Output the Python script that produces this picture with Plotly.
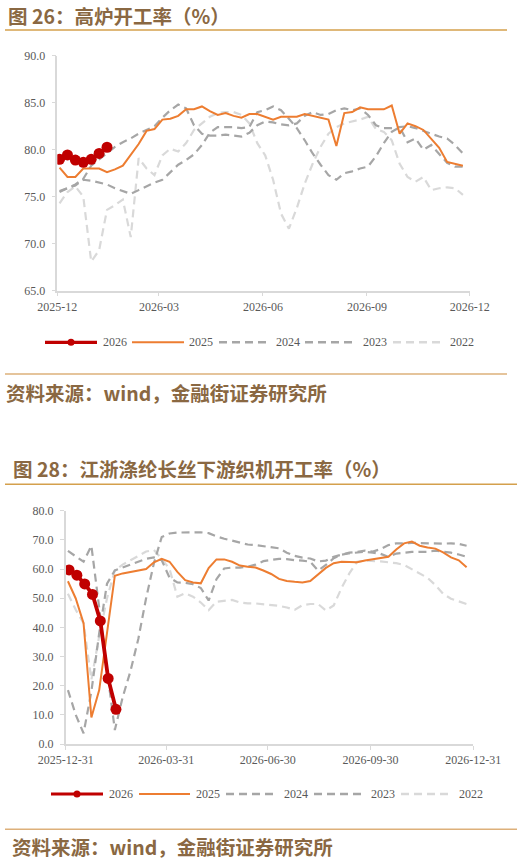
import plotly.graph_objects as go
import pandas as pd

W, H = 525, 861

# ---------------- Chart 1: 高炉开工率 (weekly) ----------------
bf_start = "2025-12-03"
bf_2026 = [78.98, 79.44, 78.9, 78.66, 78.98, 79.6, 80.26]
bf_2025 = [78.1, 77.1, 77.1, 78.0, 78.0, 78.0, 77.6, 77.9, 78.3, 79.4,
           80.6, 82.0, 82.2, 83.2, 83.3, 83.6, 84.3, 84.3, 84.6, 84.1,
           83.7, 83.9, 83.6, 83.4, 83.8, 83.8, 83.5, 83.2, 83.5, 83.5,
           83.5, 83.8, 83.6, 83.4, 83.2, 80.4, 83.9, 84.0, 84.5, 84.3,
           84.3, 84.3, 84.7, 81.7, 82.8, 82.5, 82.1, 81.2, 80.2, 78.7,
           78.5, 78.3]
bf_2024 = [75.5, 75.9, 76.2, 76.8, 76.7, 76.5, 76.3, 75.9, 75.6, 75.3,
           75.7, 76.1, 76.5, 76.8, 77.6, 78.4, 78.9, 79.5, 80.5, 81.8,
           82.4, 82.4, 82.4, 82.3, 82.4, 84.0, 84.2, 84.6, 84.2, 83.3,
           82.3, 81.0, 79.6, 78.4, 77.3, 76.8, 77.5, 77.7, 78.0, 78.2,
           79.3, 80.7, 81.9, 82.4, 80.8, 81.2, 80.0, 80.5, 79.6, 78.6,
           78.2, 78.2]
bf_2023 = [75.6, 75.9, 76.3, 76.9, 78.3, 79.0, 79.7, 80.3, 80.8, 81.2,
           81.7, 82.1, 82.5, 83.4, 84.2, 84.8, 84.4, 82.6, 81.7, 81.5,
           81.5, 81.6, 81.5, 81.4, 81.8, 82.6, 83.0, 82.9, 82.7, 82.6,
           82.8, 83.6, 84.0, 83.7, 83.8, 84.2, 84.4, 84.2, 84.4, 83.7,
           82.6, 82.3, 82.3, 82.4, 82.5, 82.3, 82.0, 81.7, 81.4, 81.2,
           80.5, 79.6]
bf_2022 = [74.3, 75.5, 76.1, 75.0, 68.1, 69.3, 73.6, 74.1, 74.7, 70.7,
           79.1, 78.0, 77.3, 79.4, 80.1, 79.8, 80.7, 82.1, 82.8, 83.5,
           83.9, 84.0, 84.0, 83.7, 82.8, 80.7, 79.4, 76.8, 73.2, 71.6,
           73.8, 76.4, 78.5, 80.3, 81.7, 82.4, 82.8, 83.0, 83.2, 83.5,
           82.2, 81.9, 81.0, 78.5, 77.1, 76.6, 77.1, 75.7, 75.9, 76.0,
           75.9, 75.2]
bf_ticks = ["2025-12-01", "2026-03-01", "2026-06-01", "2026-09-01", "2026-12-01"]
bf_ticktext = ["2025-12", "2026-03", "2026-06", "2026-09", "2026-12"]

# ---------------- Chart 2: 江浙涤纶长丝下游织机开工率 (weekly) ----------------
loom_start = "2026-01-02"
loom_2026_start = "2026-01-03"
loom_2026 = [59.7, 57.9, 54.9, 51.3, 42.2, 22.5, 11.9]
loom_2025 = [55.8, 49.9, 41.4, 9.1, 18.5, 38.0, 57.7, 58.5, 59.0, 59.6,
             60.0, 62.3, 63.5, 62.5, 59.0, 56.2, 55.4, 55.1, 60.3, 63.3,
             63.3, 62.5, 61.2, 60.8, 60.5, 59.5, 58.3, 56.6, 55.9, 55.6,
             55.4, 55.9, 58.3, 60.4, 62.0, 62.5, 62.4, 62.3, 62.9, 63.4,
             63.8, 64.2, 66.7, 68.8, 69.4, 68.0, 67.4, 67.0, 65.7, 64.0,
             63.0, 60.6]
loom_2024 = [66.2, 64.5, 62.5, 68.0, 45.9, 25.4, 4.8, 16.0, 25.0, 36.0,
             50.0, 62.0, 71.0, 72.2, 72.5, 72.6, 72.6, 72.6, 72.3, 71.2,
             70.4, 69.8, 69.0, 68.4, 68.2, 67.8, 67.4, 67.1, 65.6, 64.5,
             63.9, 63.6, 62.6, 62.9, 64.2, 65.0, 65.6, 65.9, 66.3, 66.0,
             66.8, 68.2, 68.8, 68.8, 69.0, 68.9, 68.8, 68.6, 68.7, 68.8,
             68.6, 68.0]
loom_2023 = [18.5, 10.0, 3.7, 18.0, 38.0, 55.0, 59.5, 60.5, 61.5, 62.5,
             63.5, 64.0, 63.0, 57.0, 55.4, 55.3, 54.8, 53.5, 49.2, 56.5,
             60.2, 60.5, 60.5, 60.8, 61.5, 62.7, 63.0, 63.5, 63.4, 63.0,
             62.9, 62.5, 59.5, 61.4, 63.7, 64.9, 65.4, 65.7, 65.9, 65.6,
             65.2, 64.2, 65.3, 65.6, 65.9, 65.9, 65.9, 66.3, 66.0, 65.6,
             65.0, 64.2]
loom_2022 = [51.5, 46.0, 41.4, 22.0, 37.0, 50.0, 59.5, 61.5, 63.0, 64.5,
             66.0, 66.5, 63.5, 60.0, 50.5, 51.7, 50.5, 48.5, 45.9, 48.8,
             49.2, 49.4, 48.5, 48.2, 48.2, 48.0, 47.8, 47.4, 46.8, 46.0,
             47.6, 48.0, 48.0, 45.8, 47.5, 53.5, 58.5, 62.5, 62.9, 62.8,
             62.6, 62.3, 62.0, 61.4, 60.0, 58.6, 57.0, 54.5, 51.5, 49.8,
             48.8, 48.0]
loom_ticks = ["2025-12-31", "2026-03-31", "2026-06-30", "2026-09-30", "2026-12-31"]

years = ["2026", "2025", "2024", "2023", "2022"]
title1 = "图 26：高炉开工率（%）"
title2 = "图 28：江浙涤纶长丝下游织机开工率（%）"
source = "资料来源：wind，金融街证券研究所"

# ---------------- styles ----------------
RED, ORANGE, GRAY, LIGHT = "#C00000", "#ED7D31", "#A6A6A6", "#D9D9D9"
DASH = "8px,5px"
BROWN = "#8A6842"
AXC = "#D9D9D9"
TICKFONT = dict(family="Liberation Serif", size=12, color="#595959")


def wk(start, n):
    return pd.date_range(start, periods=n, freq="7D")


def X(px):
    return px / W


def Y(py):
    return 1 - py / H


fig = go.Figure()


def add_set(xa, ya, start, start26, v26, v25, v24, v23, v22, redw):
    for vals, col in [(v22, LIGHT), (v23, GRAY), (v24, GRAY)]:
        fig.add_trace(go.Scatter(x=wk(start, len(vals)), y=vals, mode="lines",
                                 line=dict(color=col, width=2.2, dash=DASH),
                                 xaxis=xa, yaxis=ya, showlegend=False))
    fig.add_trace(go.Scatter(x=wk(start, len(v25)), y=v25, mode="lines",
                             line=dict(color=ORANGE, width=2),
                             xaxis=xa, yaxis=ya, showlegend=False))
    fig.add_trace(go.Scatter(x=wk(start26, len(v26)), y=v26, mode="lines+markers",
                             line=dict(color=RED, width=redw),
                             marker=dict(color=RED, size=11),
                             xaxis=xa, yaxis=ya, showlegend=False))


add_set("x", "y", bf_start, bf_start, bf_2026, bf_2025, bf_2024, bf_2023,
        bf_2022, 3.2)
add_set("x2", "y2", loom_start, loom_2026_start, loom_2026, loom_2025,
        loom_2024, loom_2023, loom_2022, 3.8)

axis_common = dict(showgrid=False, zeroline=False, showline=True, linecolor=AXC,
                   linewidth=1.5, ticks="outside", ticklen=4, tickcolor=AXC,
                   tickwidth=1.2, tickfont=TICKFONT, automargin=False)

fig.update_layout(
    width=W, height=H,
    margin=dict(l=0, r=0, t=0, b=0, pad=0, autoexpand=False),
    paper_bgcolor="white", plot_bgcolor="white", showlegend=False,
    xaxis=dict(domain=[X(57.3), X(469.7)], anchor="y", type="date",
               range=[bf_ticks[0], bf_ticks[-1]], tickvals=bf_ticks,
               ticktext=bf_ticktext, **axis_common),
    yaxis=dict(domain=[Y(290.7), Y(55.7)], anchor="x", range=[65, 90],
               dtick=5, tickformat=".1f", ticklabelstandoff=4, **axis_common),
    xaxis2=dict(domain=[X(65.7), X(473.3)], anchor="y2", type="date",
                range=[loom_ticks[0], loom_ticks[-1]], tickvals=loom_ticks,
                ticktext=loom_ticks, **axis_common),
    yaxis2=dict(domain=[Y(744), Y(510.7)], anchor="x2", range=[0, 80],
                dtick=10, tickformat=".1f", ticklabelstandoff=4, **axis_common),
)

shapes = []
annotations = []

HEAD_FONT = dict(family="Noto Sans CJK SC", size=19.5, color=BROWN, weight="bold")


def text(px, py, s, font, xanchor="left"):
    annotations.append(dict(x=X(px), y=Y(py), xref="paper", yref="paper", text=s,
                            showarrow=False, xanchor=xanchor, yanchor="middle",
                            font=font))


def hline(py, x0, x1, color, width):
    shapes.append(dict(type="line", xref="paper", yref="paper", x0=X(x0), x1=X(x1),
                       y0=Y(py), y1=Y(py), line=dict(color=color, width=width)))


# titles, rules and sources
text(6, 15.5, "<b>" + title1 + "</b>", HEAD_FONT)
hline(30, 5, 507, "#D4A04C", 1.6)
hline(374, 5, 507, "#DDB07A", 1.4)
text(4, 392, "<b>" + source + "</b>", HEAD_FONT)

text(11, 469, "<b>" + title2 + "</b>", HEAD_FONT)
hline(484.3, 5, 517, "#D4A04C", 1.6)
hline(829.3, 5, 517, "#DDB07A", 1.4)
text(10, 846, "<b>" + source + "</b>", HEAD_FONT)


# legends
def legend(py, starts):
    styles = [(RED, 3.2, None), (ORANGE, 2, None), (GRAY, 2.4, DASH),
              (GRAY, 2.4, DASH), (LIGHT, 2.4, DASH)]
    for (x0, x1, tx), yr, (col, w, dash) in zip(starts, years, styles):
        ln = dict(color=col, width=w)
        if dash:
            ln["dash"] = DASH
        shapes.append(dict(type="line", xref="paper", yref="paper", x0=X(x0),
                           x1=X(x1), y0=Y(py), y1=Y(py), line=ln))
        if yr == "2026":
            cx = (x0 + x1) / 2
            shapes.append(dict(type="circle", xref="paper", yref="paper",
                               x0=X(cx - 3.5), x1=X(cx + 3.5), y0=Y(py + 3.5),
                               y1=Y(py - 3.5), fillcolor=col, line=dict(width=0)))
        text(tx, py, yr, TICKFONT)


legend(342.3, [(45, 97, 101), (132, 184, 187), (219, 268, 274),
               (305, 355, 361), (393, 442, 448)])
legend(794, [(51, 103, 107), (139, 190, 194), (226, 276, 282),
             (314, 363, 369), (401, 451, 457)])

fig.update_layout(shapes=shapes, annotations=annotations)
fig.write_html("out.html", config={"displayModeBar": False},
               post_script="document.body.style.margin='0';"
                           "document.body.style.overflow='hidden';")
